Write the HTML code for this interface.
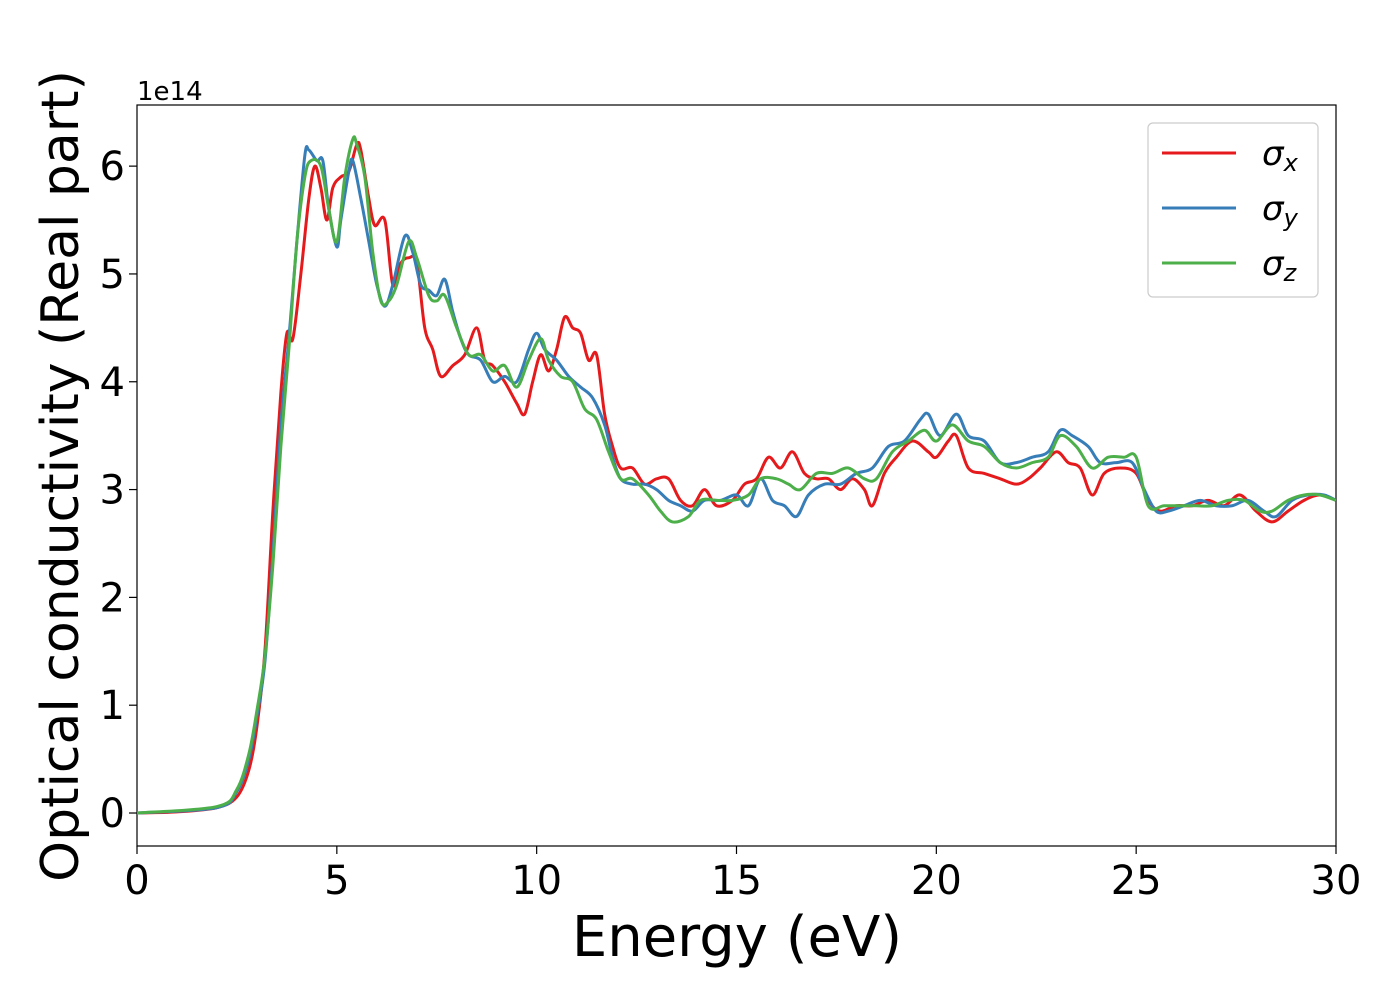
<!DOCTYPE html>
<html><head><meta charset="utf-8"><style>
body{margin:0;background:#fff;}
svg text{font-family:"DejaVu Sans","Liberation Sans",sans-serif;}
</style></head><body>
<svg id="chart" width="1400" height="1000" xmlns="http://www.w3.org/2000/svg">
<rect x="137" y="105" width="1199" height="741" fill="#fff" stroke="#000" stroke-width="1.2"/>
<g id="xticks"></g>
<g id="yticks"></g>
<g id="lines"></g>
<text x="137" y="100" font-size="26">1e14</text>
<text x="737" y="956" font-size="56" text-anchor="middle">Energy (eV)</text>
<text transform="translate(78,476) rotate(-90)" font-size="52" text-anchor="middle">Optical conductivity (Real part)</text>
<g>
<rect x="1148" y="123" width="170" height="174" rx="5" fill="#fff" stroke="#ccc" stroke-width="1.2"/>
<line x1="1162" y1="153" x2="1236" y2="153" stroke="#e41a1c" stroke-width="3"/>
<line x1="1162" y1="208" x2="1236" y2="208" stroke="#377eb8" stroke-width="3"/>
<line x1="1162" y1="263" x2="1236" y2="263" stroke="#4daf4a" stroke-width="3"/>
<text x="1262" y="165" font-size="34" font-style="italic">σ<tspan font-size="24" dy="6">x</tspan></text>
<text x="1262" y="220" font-size="34" font-style="italic">σ<tspan font-size="24" dy="6">y</tspan></text>
<text x="1262" y="275" font-size="34" font-style="italic">σ<tspan font-size="24" dy="6">z</tspan></text>
</g>
</svg>
<script>
const xTicks=[0,5,10,15,20,25,30];
const yTicks=[0,1,2,3,4,5,6];
const sxE=[0,1,2,2.5,2.8,3.0,3.2,3.4,3.6,3.75,3.9,4.1,4.3,4.45,4.6,4.75,4.9,5.1,5.3,5.5,5.6,5.8,5.95,6.2,6.4,6.6,6.8,7.0,7.2,7.4,7.6,7.9,8.2,8.5,8.7,8.9,9.2,9.5,9.7,9.9,10.1,10.3,10.5,10.7,10.9,11.1,11.3,11.5,11.7,11.9,12.1,12.4,12.7,13.0,13.3,13.6,13.9,14.2,14.5,14.9,15.2,15.5,15.8,16.1,16.4,16.7,17.0,17.3,17.6,17.9,18.2,18.4,18.7,19.0,19.4,19.8,20.0,20.3,20.5,20.8,21.2,21.6,22.0,22.3,22.6,23.0,23.3,23.6,23.9,24.2,24.6,25.0,25.3,25.6,26.0,26.4,26.8,27.2,27.6,28.0,28.4,28.8,29.2,29.6,30];
const sxV=[0,0.01,0.05,0.15,0.4,0.8,1.5,2.8,3.9,4.45,4.4,5.0,5.7,6.0,5.8,5.5,5.8,5.9,5.95,6.2,6.15,5.7,5.45,5.5,4.9,5.1,5.15,5.1,4.5,4.3,4.05,4.15,4.25,4.5,4.2,4.15,4.0,3.8,3.7,4.0,4.25,4.1,4.3,4.6,4.5,4.45,4.2,4.25,3.7,3.4,3.2,3.2,3.05,3.1,3.1,2.9,2.85,3.0,2.85,2.9,3.05,3.1,3.3,3.2,3.35,3.15,3.1,3.1,3.0,3.1,3.0,2.85,3.15,3.3,3.45,3.35,3.3,3.45,3.5,3.2,3.15,3.1,3.05,3.1,3.2,3.35,3.25,3.2,2.95,3.15,3.2,3.15,2.9,2.8,2.85,2.85,2.9,2.85,2.95,2.8,2.7,2.8,2.9,2.95,2.9];
const syE=[0,2,2.5,2.8,3.0,3.2,3.4,3.6,3.8,4.0,4.2,4.3,4.5,4.65,4.8,5.0,5.1,5.3,5.4,5.6,5.8,6.0,6.2,6.4,6.7,6.9,7.1,7.3,7.5,7.7,7.9,8.1,8.3,8.6,8.9,9.2,9.5,9.8,10.0,10.2,10.5,10.8,11.1,11.4,11.7,11.9,12.1,12.4,12.7,13.0,13.3,13.6,13.9,14.2,14.6,15.0,15.3,15.6,15.9,16.2,16.5,16.8,17.2,17.6,18.0,18.4,18.8,19.2,19.6,19.8,20.1,20.5,20.8,21.2,21.6,22.0,22.4,22.8,23.1,23.4,23.8,24.1,24.5,24.9,25.2,25.5,25.8,26.2,26.6,27.0,27.4,27.8,28.2,28.5,28.9,29.3,29.7,30];
const syV=[0,0.05,0.2,0.5,0.9,1.4,2.4,3.6,4.4,5.3,6.1,6.15,6.05,6.05,5.6,5.25,5.5,5.95,6.05,5.7,5.3,4.9,4.7,4.9,5.35,5.2,4.9,4.85,4.8,4.95,4.65,4.4,4.25,4.2,4.0,4.05,4.0,4.3,4.45,4.3,4.2,4.05,3.95,3.85,3.6,3.3,3.1,3.05,3.05,3.0,2.9,2.85,2.8,2.9,2.9,2.95,2.85,3.1,2.9,2.85,2.75,2.95,3.05,3.05,3.15,3.2,3.4,3.45,3.65,3.7,3.5,3.7,3.5,3.45,3.25,3.25,3.3,3.35,3.55,3.5,3.4,3.25,3.25,3.25,3.0,2.8,2.8,2.85,2.9,2.85,2.85,2.9,2.8,2.75,2.9,2.95,2.95,2.9];
const szE=[0,2,2.5,2.8,3.0,3.2,3.4,3.6,3.8,4.0,4.2,4.35,4.6,4.8,5.0,5.2,5.4,5.5,5.7,5.9,6.1,6.3,6.5,6.8,7.0,7.3,7.5,7.7,8.0,8.3,8.6,8.9,9.2,9.5,9.8,10.1,10.3,10.6,10.9,11.2,11.5,11.8,12.1,12.4,12.8,13.1,13.4,13.8,14.1,14.5,14.9,15.3,15.6,16.0,16.3,16.6,17.0,17.4,17.8,18.2,18.5,18.9,19.3,19.7,20.0,20.4,20.8,21.2,21.6,22.0,22.4,22.8,23.1,23.5,23.9,24.3,24.7,25.0,25.3,25.7,26.1,26.5,26.9,27.3,27.7,28.1,28.4,28.8,29.2,29.6,30];
const szV=[0,0.06,0.22,0.55,0.95,1.45,2.3,3.4,4.3,5.3,5.9,6.05,6.0,5.6,5.3,5.9,6.25,6.2,5.9,5.2,4.75,4.75,4.9,5.3,5.15,4.8,4.75,4.8,4.5,4.25,4.25,4.1,4.15,3.95,4.2,4.4,4.2,4.05,4.0,3.75,3.65,3.35,3.1,3.1,2.95,2.8,2.7,2.75,2.9,2.9,2.9,2.95,3.1,3.1,3.05,3.0,3.15,3.15,3.2,3.1,3.1,3.35,3.45,3.55,3.45,3.6,3.45,3.4,3.25,3.2,3.25,3.3,3.5,3.4,3.2,3.3,3.3,3.3,2.85,2.85,2.85,2.85,2.85,2.9,2.9,2.8,2.8,2.9,2.95,2.95,2.9];
const NS="http://www.w3.org/2000/svg";
const X0=137,X1=1336,Y0=846,Y1=105,XMIN=0,XMAX=30,YMIN=-0.306,YMAX=6.567;
function xs(v){return X0+(v-XMIN)/(XMAX-XMIN)*(X1-X0);}
function ys(v){return Y0-(v-YMIN)/(YMAX-YMIN)*(Y0-Y1);}
function el(t,a,p){const e=document.createElementNS(NS,t);for(const k in a)e.setAttribute(k,a[k]);p.appendChild(e);return e;}
const gx=document.getElementById('xticks'),gy=document.getElementById('yticks'),gl=document.getElementById('lines');
xTicks.forEach(t=>{const x=xs(t);
const l=el('line',{x1:x,y1:Y0,x2:x,y2:Y0+8,stroke:'#000','stroke-width':1.2},gx);

const tx=el('text',{x:x,y:Y0+48,'font-size':40,'text-anchor':'middle'},gx);tx.textContent=t;
});
yTicks.forEach(t=>{const y=ys(t);
const l=el('line',{x1:X0-8,y1:y,x2:X0,y2:y,stroke:'#000','stroke-width':1.2},gy);

const tx=el('text',{x:X0-12,y:y+14,'font-size':40,'text-anchor':'end'},gy);tx.textContent=t;
});
function path(E,V){const p=E.map((e,i)=>[xs(e),ys(V[i])]);let d='M'+p[0][0]+','+p[0][1];
for(let i=0;i<p.length-1;i++){const a=p[Math.max(0,i-1)],b=p[i],c=p[i+1],n=p[Math.min(p.length-1,i+2)];
d+=' C'+(b[0]+(c[0]-a[0])/6)+','+(b[1]+(c[1]-a[1])/6)+' '+(c[0]-(n[0]-b[0])/6)+','+(c[1]-(n[1]-b[1])/6)+' '+c[0]+','+c[1];}return d;}
const series=[[sxE,sxV,'#e41a1c','line-sigma-x'],[syE,syV,'#377eb8','line-sigma-y'],[szE,szV,'#4daf4a','line-sigma-z']];
const clip=el('clipPath',{id:'cp'},document.getElementById('chart'));el('rect',{x:X0,y:Y1,width:X1-X0,height:Y0-Y1},clip);
series.forEach(s=>{const p=el('path',{d:path(s[0],s[1]),fill:'none',stroke:s[2],'stroke-width':3,'clip-path':'url(#cp)','stroke-linejoin':'round'},gl);
});
</script>
</body></html>
